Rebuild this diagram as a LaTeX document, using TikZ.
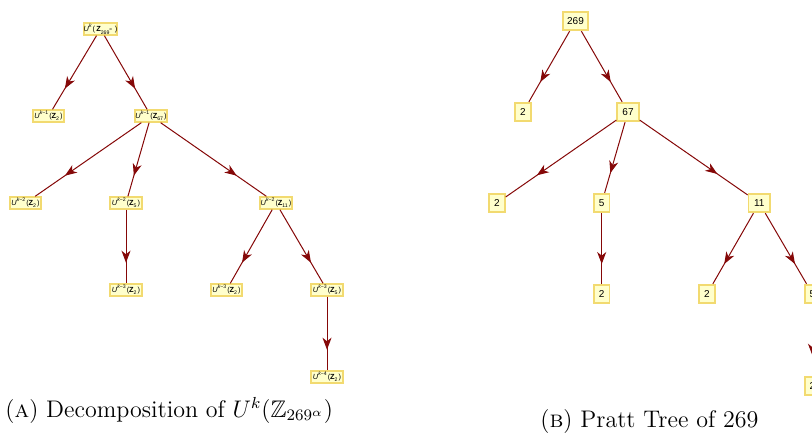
\documentclass[tikz,border=0pt]{standalone}
\usepackage{fontspec}
\usepackage{amssymb}
\newfontfamily\nodefont{Liberation Sans}
\usetikzlibrary{arrows.meta,decorations.markings}
\definecolor{edgecol}{rgb}{0.52,0.03,0.03}
\definecolor{boxfill}{RGB}{255,255,204}
\definecolor{boxdraw}{RGB}{242,218,112}
\newcommand{\ulab}[2]{{\itshape U}\textsuperscript{{\itshape k}#1}(\textbf{Z}\textsubscript{#2})}
\tikzset{
  lbox/.style={draw=boxdraw, fill=boxfill, line width=0.9pt, inner sep=0pt,
    minimum width=15.8pt, minimum height=5.8pt, font=\nodefont\fontsize{3.7}{4}\selectfont},
  rbox/.style={draw=boxdraw, fill=boxfill, line width=0.9pt, inner sep=0pt,
    minimum width=7.8pt, minimum height=9.3pt, font=\nodefont\fontsize{5}{6}\selectfont},
  wide/.style={minimum width=10.8pt},
  wider/.style={minimum width=12.8pt},
  edge/.style={draw=edgecol, line width=0.5pt, postaction={decorate},
    decoration={markings, mark=at position 0.72 with {\arrow[edgecol]{Stealth[length=6pt,width=4.5pt,inset=1.8pt]}}}},
  caption/.style={anchor=base west, inner sep=0pt, font=\fontsize{12}{14}\selectfont}
}
\begin{document}
\begin{tikzpicture}[x=0.5pt,y=-0.5pt]
\useasboundingbox (0,0) rectangle (812,436);
\clip (0,0) rectangle (812,436);
% left tree
\node[lbox] (a0) at (100.5,29) {{\itshape U}\textsuperscript{\itshape k}(\,\textbf{Z}\textsubscript{269\textsuperscript{α}}\,)};
\node[lbox] (a1) at (48.5,116) {\ulab{−1}{2}};
\node[lbox] (a2) at (151,116) {\ulab{−1}{67}};
\node[lbox] (a3) at (25.5,203) {\ulab{−2}{2}};
\node[lbox] (a4) at (126,203) {\ulab{−2}{5}};
\node[lbox] (a5) at (276,203) {\ulab{−2}{11}};
\node[lbox] (a6) at (126,290) {\ulab{−3}{2}};
\node[lbox] (a7) at (226.5,290) {\ulab{−3}{2}};
\node[lbox] (a8) at (327,290) {\ulab{−3}{5}};
\node[lbox] (a9) at (327,377) {\ulab{−4}{2}};
\draw[edge] (a0) -- (a1);
\draw[edge] (a0) -- (a2);
\draw[edge] (a2) -- (a3);
\draw[edge] (a2) -- (a4);
\draw[edge] (a2) -- (a5);
\draw[edge] (a4) -- (a6);
\draw[edge] (a5) -- (a7);
\draw[edge] (a5) -- (a8);
\draw[edge] (a8) -- (a9);
% right tree
\node[rbox,wider] (b0) at (575.5,21) {269};
\node[rbox] (b1) at (523,112) {2};
\node[rbox,wide] (b2) at (628,112) {67};
\node[rbox] (b3) at (497,203) {2};
\node[rbox] (b4) at (601.7,203) {5};
\node[rbox,wide] (b5) at (759.3,203) {11};
\node[rbox] (b6) at (601.7,294) {2};
\node[rbox] (b7) at (707,294) {2};
\node[rbox] (b8) at (812.5,294) {5};
\node[rbox] (b9) at (812.5,386) {2};
\draw[edge] (b0) -- (b1);
\draw[edge] (b0) -- (b2);
\draw[edge] (b2) -- (b3);
\draw[edge] (b2) -- (b4);
\draw[edge] (b2) -- (b5);
\draw[edge] (b4) -- (b6);
\draw[edge] (b5) -- (b7);
\draw[edge] (b5) -- (b8);
\draw[edge] (b8) -- (b9);
% captions
\node[caption] (capA) at (5,417) {(\textsc{a}) Decomposition of $U^k(\mathbb{Z}_{269^\alpha})$};
\node[caption] (capB) at (540,427) {(\textsc{b}) Pratt Tree of 269};
\end{tikzpicture}
\end{document}
